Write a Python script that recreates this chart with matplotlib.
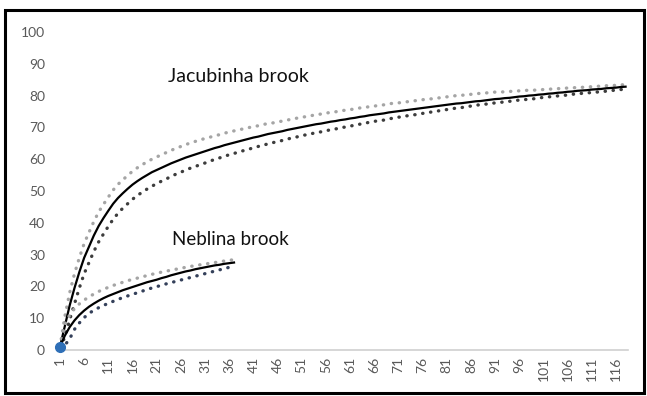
import matplotlib
matplotlib.use("Agg")
import matplotlib.pyplot as plt
from matplotlib.patches import Rectangle

plt.rcParams['font.family'] = ['Lato', 'DejaVu Sans']

# rarefaction curves, species vs. samples (with 95% bounds)
jacubinha = [
    1.0, 7.5, 14.0, 19.5, 24.5, 29.0, 32.5, 36.0, 39.0, 41.5,
    43.8, 46.0, 47.8, 49.3, 50.7, 52.0, 53.1, 54.1, 55.0, 55.9,
    56.6, 57.3, 58.0, 58.7, 59.3, 59.9, 60.5, 61.0, 61.5, 62.0,
    62.5, 63.0, 63.5, 63.9, 64.4, 64.8, 65.2, 65.6, 66.0, 66.4,
    66.8, 67.1, 67.5, 67.9, 68.2, 68.5, 68.8, 69.2, 69.5, 69.8,
    70.1, 70.4, 70.7, 71.0, 71.2, 71.5, 71.8, 72.0, 72.3, 72.5,
    72.8, 73.0, 73.3, 73.5, 73.8, 74.0, 74.2, 74.4, 74.7, 74.9,
    75.1, 75.3, 75.5, 75.7, 75.9, 76.1, 76.3, 76.5, 76.7, 76.9,
    77.1, 77.3, 77.5, 77.6, 77.8, 78.0, 78.2, 78.3, 78.5, 78.7,
    78.9, 79.0, 79.2, 79.3, 79.5, 79.7, 79.8, 80.0, 80.1, 80.3,
    80.4, 80.6, 80.7, 80.9, 81.0, 81.2, 81.3, 81.5, 81.6, 81.7,
    81.9, 82.0, 82.1, 82.3, 82.4, 82.5, 82.7, 82.8,
]
jacubinha_upper = [
    1.0, 10.5, 18.0, 24.0, 29.0, 33.5, 37.0, 40.4, 43.4, 45.8,
    48.1, 50.3, 52.1, 53.5, 54.9, 56.2, 57.3, 58.3, 59.1, 60.0,
    60.7, 61.4, 62.1, 62.8, 63.4, 64.0, 64.6, 65.1, 65.6, 66.1,
    66.5, 66.9, 67.4, 67.7, 68.2, 68.5, 68.9, 69.2, 69.6, 69.9,
    70.3, 70.5, 70.9, 71.2, 71.4, 71.7, 72.0, 72.3, 72.6, 72.9,
    73.2, 73.4, 73.7, 74.0, 74.2, 74.5, 74.7, 74.9, 75.2, 75.4,
    75.6, 75.8, 76.1, 76.3, 76.5, 76.7, 76.9, 77.1, 77.4, 77.6,
    77.7, 77.9, 78.1, 78.3, 78.5, 78.7, 78.9, 79.0, 79.2, 79.4,
    79.6, 79.8, 80.0, 80.1, 80.2, 80.4, 80.6, 80.7, 80.8, 81.0,
    81.1, 81.1, 81.2, 81.3, 81.4, 81.5, 81.6, 81.7, 81.7, 81.8,
    81.9, 82.0, 82.1, 82.2, 82.2, 82.4, 82.4, 82.6, 82.6, 82.7,
    82.8, 82.9, 83.0, 83.1, 83.2, 83.2, 83.4, 83.4,
]
jacubinha_lower = [
    1.0, 4.0, 9.5, 14.5, 19.5, 24.0, 27.5, 31.0, 34.0, 36.5,
    38.9, 41.1, 43.0, 44.6, 46.0, 47.4, 48.6, 49.6, 50.6, 51.5,
    52.3, 53.1, 53.8, 54.6, 55.3, 55.9, 56.6, 57.2, 57.7, 58.3,
    58.8, 59.4, 59.9, 60.4, 60.9, 61.4, 61.8, 62.3, 62.7, 63.1,
    63.6, 64.0, 64.4, 64.8, 65.2, 65.5, 65.9, 66.3, 66.7, 67.0,
    67.4, 67.7, 68.0, 68.4, 68.6, 68.9, 69.3, 69.5, 69.9, 70.1,
    70.4, 70.7, 71.0, 71.3, 71.6, 71.9, 72.1, 72.3, 72.7, 72.9,
    73.2, 73.4, 73.7, 73.9, 74.1, 74.4, 74.6, 74.9, 75.1, 75.4,
    75.6, 75.8, 76.1, 76.2, 76.5, 76.7, 77.0, 77.1, 77.3, 77.5,
    77.7, 77.8, 78.1, 78.2, 78.4, 78.6, 78.7, 78.9, 79.0, 79.3,
    79.4, 79.6, 79.7, 79.9, 80.0, 80.2, 80.4, 80.6, 80.7, 80.8,
    81.0, 81.1, 81.2, 81.4, 81.6, 81.7, 81.9, 82.0,
]

neblina = [
    1.0, 4.5, 7.2, 9.3, 11.0, 12.4, 13.6, 14.6, 15.5, 16.3,
    17.0, 17.6, 18.2, 18.8, 19.3, 19.8, 20.3, 20.8, 21.3, 21.7,
    22.1, 22.6, 23.0, 23.5, 23.9, 24.3, 24.7, 25.0, 25.4, 25.7,
    26.0, 26.3, 26.6, 26.8, 27.1, 27.3, 27.5,
]
neblina_upper = [
    1.0, 8.0, 11.0, 13.0, 14.5, 15.7, 16.7, 17.6, 18.4, 19.1,
    19.7, 20.3, 20.8, 21.3, 21.8, 22.2, 22.6, 23.0, 23.4, 23.8,
    24.1, 24.5, 24.8, 25.1, 25.4, 25.7, 26.0, 26.3, 26.5, 26.8,
    27.0, 27.3, 27.5, 27.7, 28.0, 28.2, 28.4,
]
neblina_lower = [
    1.0, 1.5, 3.5, 6.5, 8.5, 10.2, 11.5, 12.5, 13.3, 14.0,
    14.7, 15.3, 15.9, 16.5, 17.0, 17.5, 18.0, 18.5, 19.0, 19.5,
    19.9, 20.4, 20.8, 21.2, 21.6, 22.0, 22.4, 22.8, 23.2, 23.6,
    24.0, 24.4, 24.8, 25.2, 25.6, 26.0, 26.4,
]

samples = list(range(1, len(jacubinha) + 1))
tick_labels = [str(s) for s in samples if (s - 1) % 5 == 0]
tick_pos = [s for s in samples if (s - 1) % 5 == 0]

fig = plt.figure(figsize=(6.47, 3.96), dpi=100)
ax = fig.add_axes([0.089, 0.1162, 0.8816, 0.803])

dots = (0, (0.1, 2.3))
light = '#a5a5a5'
dark_j = '#3d3d3d'
dark_n = '#34405a'

nx = samples[:len(neblina)]
ax.plot(samples, jacubinha_upper, color=light, lw=2.4, ls=dots, dash_capstyle='round')
ax.plot(samples, jacubinha_lower, color=dark_j, lw=2.4, ls=dots, dash_capstyle='round')
ax.plot(samples, jacubinha, color='black', lw=1.6)
ax.plot(nx, neblina_upper, color=light, lw=2.4, ls=dots, dash_capstyle='round')
ax.plot(nx, neblina_lower, color=dark_n, lw=2.4, ls=dots, dash_capstyle='round')
ax.plot(nx, neblina, color='black', lw=1.6)
ax.plot([1], [jacubinha[0]], 'o', color='#2e6fb7', ms=7, zorder=5, clip_on=False)

ax.text(23.4, 86, 'Jacubinha brook', fontsize=14, va='center', ha='left', color='#111111')
ax.text(24.2, 34.6, 'Neblina brook', fontsize=13.5, va='center', ha='left', color='#111111')

ax.set_xlim(0.5, len(samples) + 0.5)
ax.set_ylim(0, 100)
ax.set_yticks(range(0, 101, 10))
ax.set_xticks(tick_pos)
ax.set_xticklabels(tick_labels, rotation=90)
ax.tick_params(axis='both', length=0, labelsize=10, labelcolor='#595959')
ax.tick_params(axis='y', pad=9)
ax.tick_params(axis='x', pad=5)

for side in ['top', 'right', 'left']:
    ax.spines[side].set_visible(False)
ax.spines['bottom'].set_color('#d0d0d0')
ax.spines['bottom'].set_linewidth(1.2)

# outer border of the chart area
fig.patches.append(Rectangle((5 / 647, 3 / 396), 639 / 647, 383 / 396,
                             transform=fig.transFigure, fill=False,
                             edgecolor='black', lw=2.2))

fig.savefig('out.png', dpi=100)
